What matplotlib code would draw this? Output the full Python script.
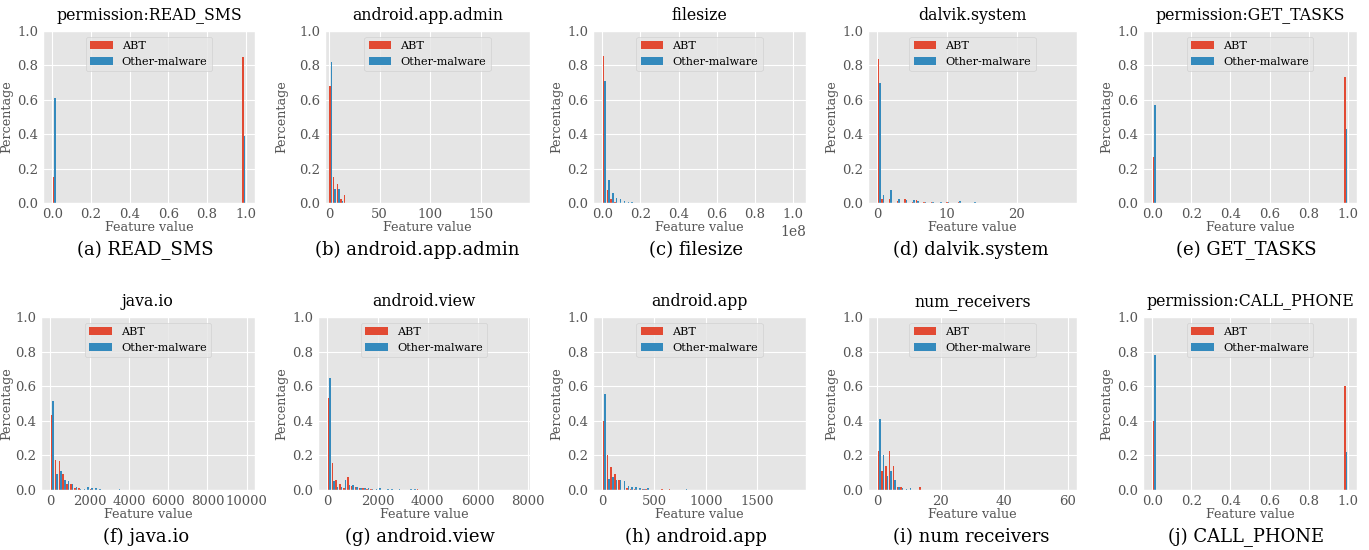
import matplotlib
matplotlib.use("Agg")
import matplotlib.pyplot as plt

plt.style.use('ggplot')
plt.rcParams['font.family'] = ['DejaVu Serif']

W, H = 1369, 550

# ---- data: feature values and fraction of apps per value ----
# (a) permission:READ_SMS
sms_vals = [0, 1]
sms_abt = [0.15, 0.85]
sms_oth = [0.61, 0.39]

# (b) android.app.admin
adm_vals = [1, 5, 9, 12, 16, 95, 105, 160, 175]
adm_abt = [0.68, 0.15, 0.11, 0.025, 0.045, 0.0, 0.0, 0.0, 0.0]
adm_oth = [0.82, 0.08, 0.08, 0.01, 0.0, 0.001, 0.001, 0.001, 0.001]

# (c) filesize
fs_vals = [1e6, 3e6, 5e6, 7e6, 9e6, 11e6, 13e6, 15e6]
fs_abt = [0.855, 0.075, 0.025, 0.008, 0.0, 0.0, 0.0, 0.0]
fs_oth = [0.71, 0.135, 0.06, 0.03, 0.022, 0.01, 0.006, 0.004]

# (d) dalvik.system
dv_vals = [0, 1, 2, 3, 4, 5, 6, 7, 8, 9, 10, 12, 14, 27]
dv_abt = [0.84, 0.025, 0.025, 0.01, 0.025, 0.004, 0.018, 0.006, 0.003, 0.0, 0.005, 0.006, 0.0, 0.0]
dv_oth = [0.70, 0.045, 0.075, 0.025, 0.02, 0.015, 0.012, 0.005, 0.004, 0.005, 0.005, 0.012, 0.005, 0.001]

# (e) permission:GET_TASKS
gt_vals = [0, 1]
gt_abt = [0.27, 0.73]
gt_oth = [0.57, 0.43]

# (f) java.io
io_vals = [100, 300, 500, 700, 900, 1100, 1300, 1500, 1700, 1900, 2100, 2300, 2500, 3400]
io_abt = [0.435, 0.175, 0.165, 0.09, 0.035, 0.035, 0.01, 0.01, 0.0, 0.0, 0.005, 0.0, 0.0, 0.0]
io_oth = [0.515, 0.09, 0.11, 0.06, 0.05, 0.035, 0.02, 0.005, 0.005, 0.015, 0.01, 0.01, 0.005, 0.005]

# (g) android.view
vw_vals = [70, 230, 380, 540, 690, 850, 1000, 1150, 1310, 1460, 1620, 1770, 1930, 2080, 2390, 2540, 2850, 3310, 3470, 3620]
vw_abt = [0.53, 0.155, 0.055, 0.035, 0.012, 0.075, 0.025, 0.02, 0.01, 0.01, 0.005, 0.005, 0.0, 0.0, 0.0, 0.0, 0.0, 0.0, 0.0, 0.005]
vw_oth = [0.645, 0.05, 0.02, 0.02, 0.055, 0.03, 0.03, 0.015, 0.01, 0.01, 0.01, 0.005, 0.005, 0.01, 0.005, 0.005, 0.003, 0.005, 0.005, 0.0]

# (h) android.app
ap_vals = [15, 55, 90, 130, 170, 205, 245, 280, 320, 355, 395, 430, 580, 650, 810]
ap_abt = [0.40, 0.205, 0.135, 0.09, 0.055, 0.0, 0.01, 0.005, 0.005, 0.0, 0.005, 0.005, 0.005, 0.005, 0.0]
ap_oth = [0.555, 0.065, 0.075, 0.055, 0.055, 0.05, 0.025, 0.015, 0.015, 0.01, 0.005, 0.01, 0.0, 0.0, 0.005]

# (i) num_receivers
rc_vals = [1, 2, 3, 4, 5, 7, 8, 9, 10, 14]
rc_abt = [0.225, 0.11, 0.14, 0.225, 0.14, 0.02, 0.015, 0.0, 0.0, 0.02]
rc_oth = [0.41, 0.205, 0.08, 0.11, 0.055, 0.02, 0.01, 0.005, 0.01, 0.0]

# (j) permission:CALL_PHONE
cp_vals = [0, 1]
cp_abt = [0.40, 0.60]
cp_oth = [0.78, 0.22]

panels = [
    ('permission:READ_SMS', '(a) READ_SMS', sms_vals, sms_abt, sms_oth, (0, 1), [0, 0.2, 0.4, 0.6, 0.8, 1.0]),
    ('android.app.admin', '(b) android.app.admin', adm_vals, adm_abt, adm_oth, (0, 180), [0, 50, 100, 150]),
    ('filesize', '(c) filesize', fs_vals, fs_abt, fs_oth, (0, 1.02e8), [0, 0.2e8, 0.4e8, 0.6e8, 0.8e8, 1.0e8]),
    ('dalvik.system', '(d) dalvik.system', dv_vals, dv_abt, dv_oth, (0, 27.3), [0, 10, 20]),
    ('permission:GET_TASKS', '(e) GET_TASKS', gt_vals, gt_abt, gt_oth, (0, 1), [0, 0.2, 0.4, 0.6, 0.8, 1.0]),
    ('java.io', '(f) java.io', io_vals, io_abt, io_oth, (0, 9950), [0, 2000, 4000, 6000, 8000, 10000]),
    ('android.view', '(g) android.view', vw_vals, vw_abt, vw_oth, (0, 7700), [0, 2000, 4000, 6000, 8000]),
    ('android.app', '(h) android.app', ap_vals, ap_abt, ap_oth, (0, 1880), [0, 500, 1000, 1500]),
    ('num_receivers', '(i) num receivers', rc_vals, rc_abt, rc_oth, (0, 60), [0, 20, 40, 60]),
    ('permission:CALL_PHONE', '(j) CALL_PHONE', cp_vals, cp_abt, cp_oth, (0, 1), [0, 0.2, 0.4, 0.6, 0.8, 1.0]),
]

# layout in pixels: axes left/right, ylabel x, caption x
ax_left = [43, 325, 593, 868, 1143, 41, 318, 593, 868, 1143]
ax_right = [255, 530, 806, 1077, 1357, 255, 530, 806, 1077, 1357]
ylab_x = [13, 288, 563, 838, 1113, 13, 288, 563, 838, 1113]
cap_x = [145, 417, 696, 971, 1246, 146, 420, 696, 971, 1246]
row_top = [31, 317]
row_bot = [203, 490]
cap_y = [250, 537]

fig = plt.figure(figsize=(W / 100.0, H / 100.0), dpi=100)

for i, (title, cap, vals, abt, oth, rng, ticks) in enumerate(panels):
    r = i // 5
    l, rr = ax_left[i], ax_right[i]
    t, b = row_top[r], row_bot[r]
    ax = fig.add_axes([l / W, 1 - b / H, (rr - l) / W, (b - t) / H])
    ax.hist([vals, vals], bins=50, range=rng, weights=[abt, oth],
            color=['#E24A33', '#348ABD'], label=['ABT', 'Other-malware'])
    ax.set_ylim(0, 1.0)
    if i == 1:
        ax.set_xlim(-4, 199)
    ax.set_xticks(ticks)
    ax.tick_params(labelsize=9.5, length=0)
    ax.set_title(title, fontsize=11.3, color='black', pad=8)
    ax.set_xlabel('Feature value', fontsize=9.2, labelpad=0)
    ax.set_ylabel('Percentage', fontsize=9.2)
    ax.yaxis.set_label_coords((ylab_x[i] - l) / (rr - l), 0.5)
    ax.legend(loc='upper center', fontsize=8.1)
    fig.text(cap_x[i] / W, 1 - cap_y[r] / H, cap, ha='center', va='center',
             fontsize=13, color='black')

plt.savefig('out.png', dpi=100)
